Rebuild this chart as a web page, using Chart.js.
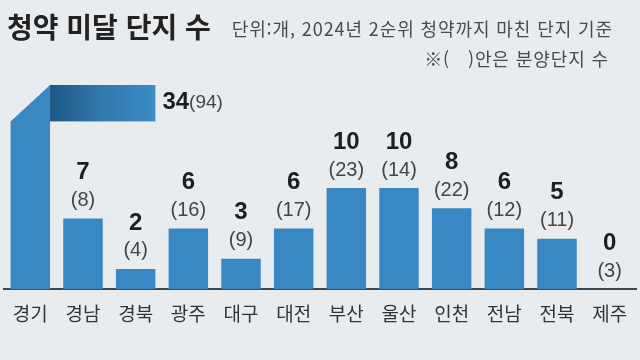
<!DOCTYPE html>
<html lang="ko">
<head>
<meta charset="utf-8">
<script src="https://cdn.jsdelivr.net/npm/chart.js@4/dist/chart.umd.min.js"></script>
<style>
  html, body { margin:0; padding:0; background:#e9ecef; }
  #wrap { position:relative; width:640px; height:360px; overflow:hidden; background:#e9ecef; }
  #title { position:absolute; left:7px; top:9px; font-family:"Noto Sans CJK KR","Noto Sans",sans-serif; font-weight:700; font-size:28px; line-height:34px; color:#222; white-space:nowrap; }
  .note { position:absolute; font-family:"Noto Sans CJK KR","Noto Sans",sans-serif; font-size:18px; line-height:20px; letter-spacing:0.9px; color:#4a4a4a; white-space:pre; }
  #n1 { top:18px; right:27px; }
  #n2 { top:48px; right:31px; }
  canvas { position:absolute; left:0; top:0; }
</style>
</head>
<body>
<div id="wrap">
  <canvas id="c" width="640" height="360"></canvas>
  <div id="title">청약 미달 단지 수</div>
  <div class="note" id="n1">단위:개, 2024년 2순위 청약까지 마친 단지 기준</div>
  <div class="note" id="n2">※(   )안은 분양단지 수</div>
</div>
<script>
const categories = ['경기','경남','경북','광주','대구','대전','부산','울산','인천','전남','전북','제주'];
const unsoldComplexes = [34, 7, 2, 6, 3, 6, 10, 10, 8, 6, 5, 0];
const totalComplexes = [94, 8, 4, 16, 9, 17, 23, 14, 22, 12, 11, 3];
const axisMax = 20.2;
const breakValue = 16.6;

const BAR = '#3a88c3';
const numFont = '"Liberation Sans", Arial, sans-serif';

const brokenBar = {
  id: 'brokenBar',
  afterDatasetsDraw(chart) {
    const ctx = chart.ctx;
    const meta = chart.getDatasetMeta(0);
    const y = chart.scales.y;
    const area = chart.chartArea;
    const b0 = meta.data[0];
    const half = b0.width / 2;
    const L = b0.x - half, R = b0.x + half;
    const base = y.getPixelForValue(0);
    const yb = y.getPixelForValue(breakValue);
    const top = area.top;
    const endX = meta.data[2].x + meta.data[2].width / 2;
    ctx.save();
    ctx.fillStyle = BAR;
    ctx.beginPath();
    ctx.moveTo(L, base);
    ctx.lineTo(L, yb);
    ctx.lineTo(R, top);
    ctx.lineTo(R, base);
    ctx.closePath();
    ctx.fill();
    const g = ctx.createLinearGradient(R, 0, endX, 0);
    g.addColorStop(0, '#1d5883');
    g.addColorStop(0.45, '#2f76ab');
    g.addColorStop(1, '#3d8cc6');
    ctx.fillStyle = g;
    ctx.fillRect(R, top, endX - R, yb - top);
    ctx.textBaseline = 'middle';
    ctx.textAlign = 'left';
    ctx.fillStyle = '#1e1e1e';
    ctx.font = 'bold 24px ' + numFont;
    const t1 = String(unsoldComplexes[0]);
    const lx = endX + 7;
    const ly = (top + yb) / 2 - 1;
    ctx.fillText(t1, lx, ly);
    const w1 = ctx.measureText(t1).width;
    ctx.font = '19px ' + numFont;
    ctx.fillStyle = '#444';
    ctx.fillText('(' + totalComplexes[0] + ')', lx + w1, ly + 1);
    ctx.restore();
  }
};

const valueLabels = {
  id: 'valueLabels',
  afterDatasetsDraw(chart) {
    const ctx = chart.ctx;
    const meta = chart.getDatasetMeta(0);
    ctx.save();
    ctx.textAlign = 'center';
    ctx.textBaseline = 'middle';
    meta.data.forEach((bar, i) => {
      if (i === 0) return;
      ctx.font = 'bold 24px ' + numFont;
      ctx.fillStyle = '#1e1e1e';
      ctx.fillText(String(unsoldComplexes[i]), bar.x, bar.y - 46);
      ctx.font = '20px ' + numFont;
      ctx.fillStyle = '#444';
      ctx.fillText('(' + totalComplexes[i] + ')', bar.x, bar.y - 18);
    });
    ctx.restore();
  }
};

new Chart(document.getElementById('c'), {
  type: 'bar',
  data: {
    labels: categories,
    datasets: [{
      data: unsoldComplexes,
      backgroundColor: unsoldComplexes.map((v, i) => i === 0 ? 'rgba(0,0,0,0)' : BAR),
      borderWidth: 0,
      barPercentage: 0.75,
      categoryPercentage: 1.0
    }]
  },
  options: {
    responsive: false,
    animation: false,
    devicePixelRatio: 1,
    layout: { padding: { top: 85, bottom: 22, left: 0, right: 0 } },
    plugins: { legend: { display: false }, tooltip: { enabled: false }, title: { display: false } },
    scales: {
      x: {
        grid: { display: false, drawTicks: false },
        border: { display: true, color: '#3b4852', width: 2 },
        ticks: {
          color: '#333',
          font: { family: '"Noto Sans CJK KR","Noto Sans",sans-serif', size: 19 },
          padding: 13,
          maxRotation: 0,
          autoSkip: false
        }
      },
      y: {
        display: false,
        min: 0,
        max: axisMax
      }
    }
  },
  plugins: [brokenBar, valueLabels]
});
</script>
</body>
</html>
